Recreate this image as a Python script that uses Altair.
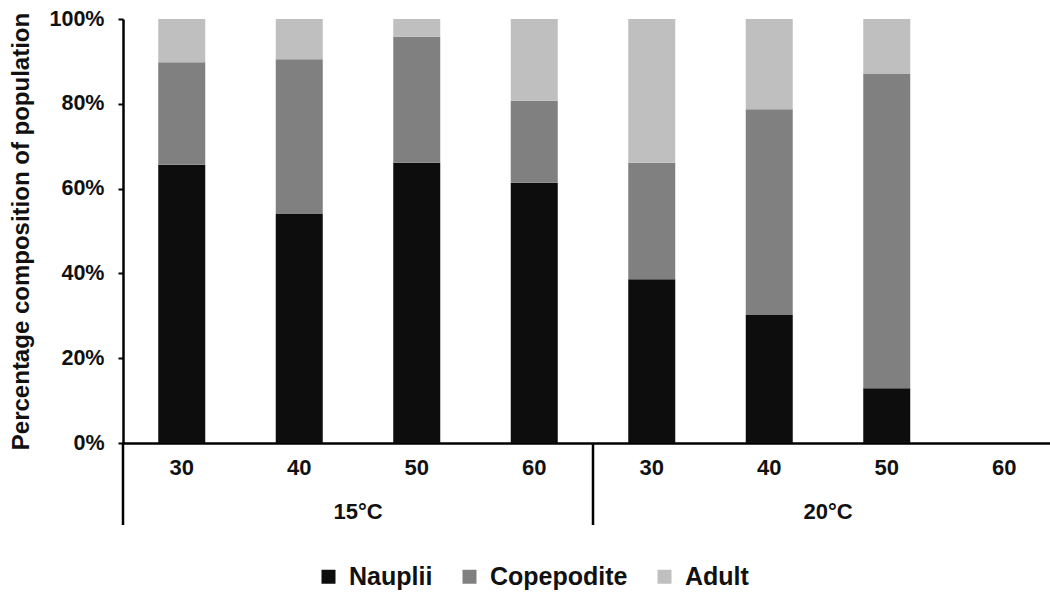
import altair as alt
import pandas as pd

# ---- data ----
temperatures = ["15°C", "15°C", "15°C", "15°C", "20°C", "20°C", "20°C"]
salinities = ["30", "40", "50", "60", "30", "40", "50"]
nauplii = [65.6, 54.1, 66.1, 61.4, 38.6, 30.2, 12.9]
copepodite = [24.2, 36.4, 29.7, 19.3, 27.5, 48.5, 74.1]
adult = [10.2, 9.5, 4.2, 19.3, 33.9, 21.3, 13.0]

all_keys = [f"{t}|{s}" for t in ["15°C", "20°C"] for s in ["30", "40", "50", "60"]]
stages = ["Nauplii", "Copepodite", "Adult"]
stage_colors = ["#0d0d0d", "#808080", "#bfbfbf"]

rows = []
for i in range(len(temperatures)):
    key = f"{temperatures[i]}|{salinities[i]}"
    for j, (stage, vals) in enumerate(zip(stages, [nauplii, copepodite, adult])):
        rows.append({"key": key, "stage": stage, "value": vals[i], "ord": j})
df = pd.DataFrame(rows)

group_labels = pd.DataFrame({"key": ["15°C|40", "20°C|40"], "label": ["15°C", "20°C"]})
group_starts = pd.DataFrame({"key": ["15°C|30", "20°C|30"]})

FONT = "Liberation Sans"
PLOT_W = 927
PLOT_H = 424

xscale = alt.Scale(domain=all_keys, paddingInner=0, paddingOuter=0, range=[0, 940])

xaxis = alt.Axis(labelExpr="split(datum.label, '|')[1]", labelAngle=0,
                 domain=True, ticks=False, tickSize=0, labelPadding=14,
                 labelFont=FONT, labelFontSize=22, labelFontWeight="bold",
                 labelColor="#111111", domainColor="#000000", domainWidth=2.5,
                 grid=False, title=None)

bars = alt.Chart(df).mark_bar(width=alt.RelativeBandSize(0.4)).encode(
    x=alt.X("key:N", scale=xscale, title=None, axis=xaxis),
    y=alt.Y("value:Q", stack="zero",
            scale=alt.Scale(domain=[0, 100], nice=False),
            title="Percentage composition of population",
            axis=alt.Axis(values=[0, 20, 40, 60, 80, 100], labelExpr="datum.value + '%'",
                          domain=True, ticks=True,
                          tickSize=5, tickWidth=2, tickColor="#000000",
                          domainColor="#000000", domainWidth=2.5,
                          labelPadding=14, labelFont=FONT, labelFontSize=21.5,
                          labelFontWeight="bold", labelColor="#111111",
                          titleFont=FONT, titleFontSize=24, titleFontWeight="bold",
                          titleColor="#111111", titlePadding=16, grid=False)),
    color=alt.Color("stage:N", scale=alt.Scale(domain=stages, range=stage_colors),
                    legend=alt.Legend(title=None, orient="none", direction="horizontal",
                                      legendX=193, legendY=545,
                                      symbolType="square", symbolSize=196,
                                      symbolStrokeWidth=0, symbolOpacity=1,
                                      labelFont=FONT, labelFontSize=25,
                                      labelFontWeight="bold", labelColor="#111111",
                                      labelOffset=8, columnPadding=24, padding=0)),
    order=alt.Order("ord:Q", sort="ascending"),
)

separators = alt.Chart(group_starts).mark_rule(color="#000000", strokeWidth=2.5).encode(
    x=alt.X("key:N", scale=xscale, bandPosition=0, title=None),
    y=alt.value(PLOT_H),
    y2=alt.value(PLOT_H + 82),
)

glabels = alt.Chart(group_labels).mark_text(
    font=FONT, fontSize=22, fontWeight="bold", color="#111111", baseline="middle", align="center"
).encode(
    x=alt.X("key:N", scale=xscale, bandPosition=1, title=None),
    y=alt.value(PLOT_H + 69),
    text="label:N",
)

chart = alt.layer(bars, separators, glabels).properties(
    width=PLOT_W, height=PLOT_H,
    autosize=alt.AutoSizeParams(type="none"),
    padding={"left": 123, "top": 19, "right": 0, "bottom": 156},
    background="white",
).configure_view(stroke=None)

chart.save("out.html", embed_options={"renderer": "svg", "actions": False})
